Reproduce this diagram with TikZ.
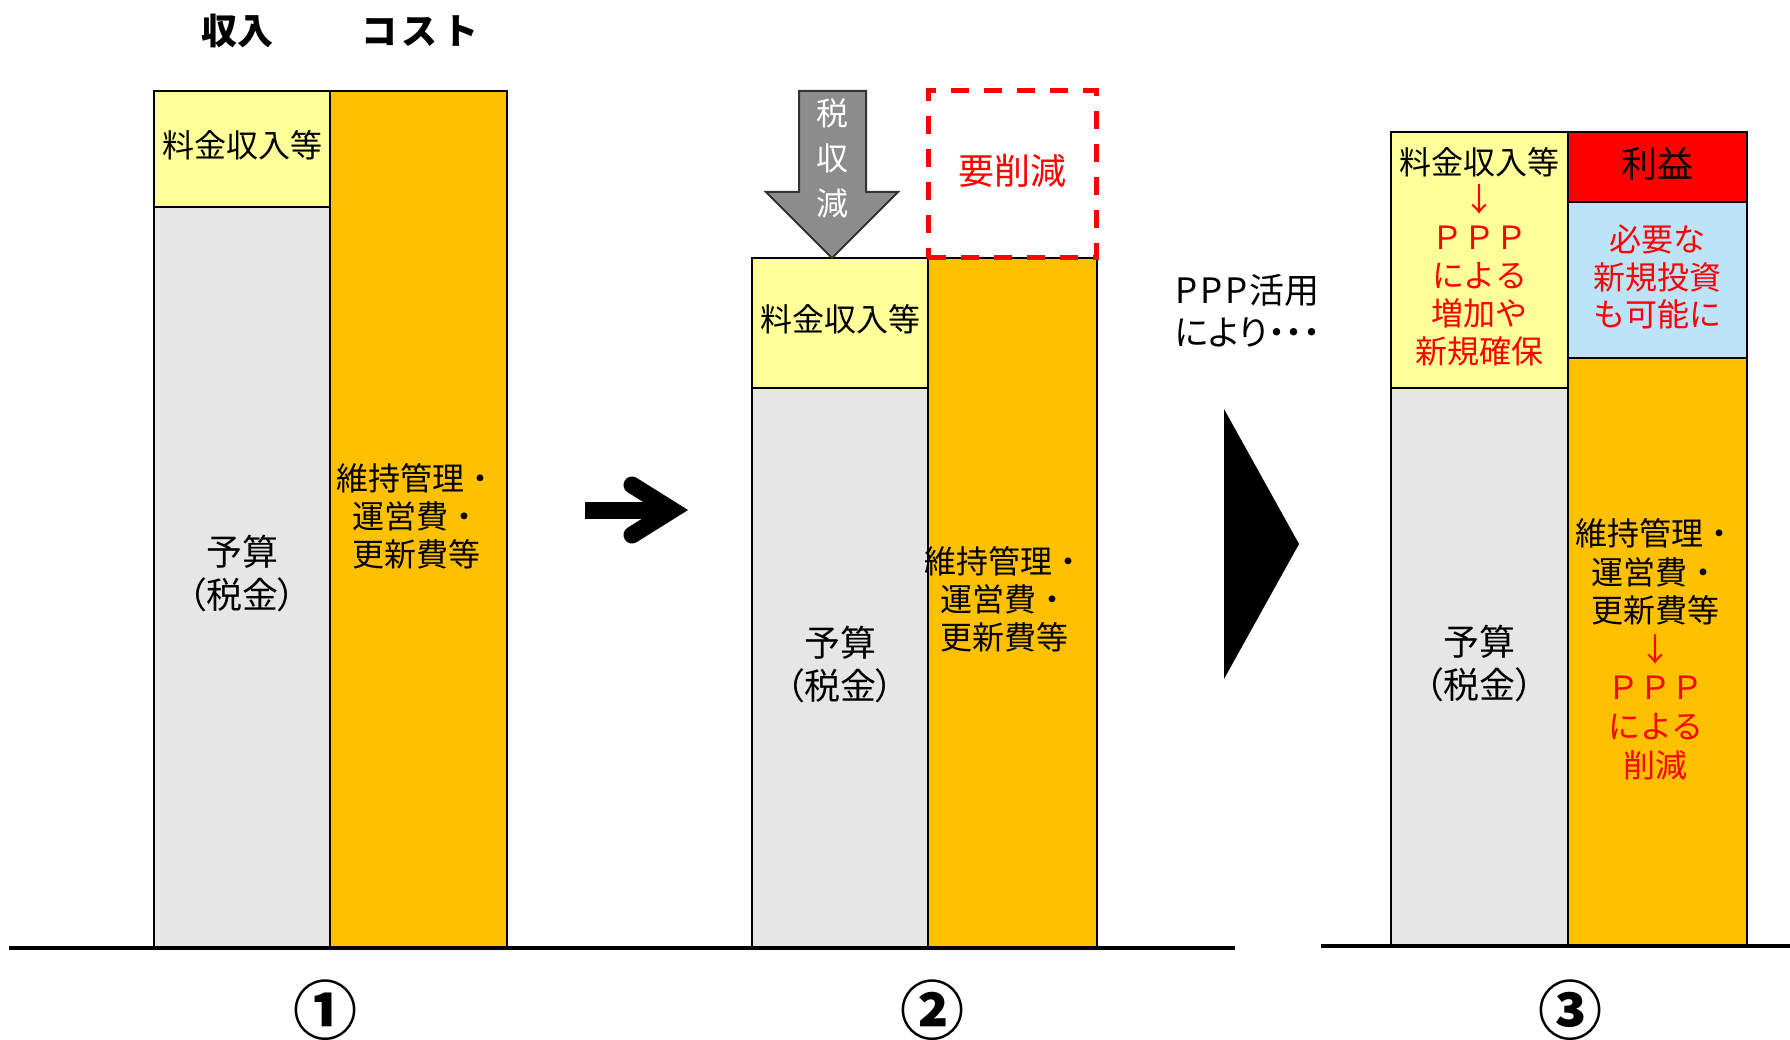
\documentclass[tikz,border=0pt]{standalone}
\usepackage{fontspec}
\setmainfont{Noto Sans CJK JP}
\newfontfamily\pj[RawFeature=+palt]{Noto Sans CJK JP}
\definecolor{cyel}{HTML}{FFFF99}
\definecolor{corg}{HTML}{FFC000}
\definecolor{cgry}{HTML}{E6E6E6}
\definecolor{cblu}{HTML}{BDE3F9}
\definecolor{cred}{HTML}{FF0000}
\definecolor{carr}{HTML}{8C8C8C}
\begin{document}
\begin{tikzpicture}[x=1pt,y=-1pt,
  box/.style={draw=black, line width=2.5pt, inner sep=0pt},
  txt/.style={inner sep=0pt, align=center, font={\fontsize{32}{38}\selectfont}},
  taxtxt/.style={inner sep=0pt, align=center, font={\pj\fontsize{36}{43}\selectfont}},
  head/.style={inner sep=0pt, font={\bfseries\fontsize{36}{40}\selectfont}},
  num/.style={inner sep=0pt, font={\bfseries\fontsize{64}{70}\selectfont}},
  base/.style={line width=4pt}]
\useasboundingbox[fill=white] (0,0) rectangle (1790,1040);

% headings
\node[head] (hinc) at (237,31) {収入};
\node[head] (hcost) at (420,31) {コ\kern5ptス\kern5ptト};

% panel 1
\node[box, fill=cyel, minimum width=176pt, minimum height=116pt] (p1inc) at (242,149) {};
\node[box, fill=cgry, minimum width=176pt, minimum height=741pt] (p1tax) at (242,577.5) {};
\node[box, fill=corg, minimum width=177pt, minimum height=857pt] (p1cost) at (418.5,519.5) {};
\node[txt] (t1inc) at ([yshift=3.5pt]p1inc.center) {料金収入等};
\node[taxtxt] (t1tax) at ([yshift=3.5pt]p1tax.center) {予算\\（税金）};
\node[txt] (t1cost) at ([yshift=3.5pt,xshift=-2pt]p1cost.center) {維持管理・\\運営費・\\更新費等};

% arrow 1 -> 2
\fill (585,501.5) rectangle (672,518.5);
\draw[line width=17pt, line cap=round, line join=miter] (632,485) -- (672,510) -- (632,535);

% panel 2
\node[box, fill=cyel, minimum width=176pt, minimum height=130pt] (p2inc) at (840,323) {};
\node[box, fill=cgry, minimum width=176pt, minimum height=560pt] (p2tax) at (840,668) {};
\node[box, fill=corg, minimum width=169pt, minimum height=690pt] (p2cost) at (1012.5,603) {};
\node[txt] (t2inc) at ([yshift=3.5pt]p2inc.center) {料金収入等};
\node[taxtxt] (t2tax) at ([yshift=3.5pt]p2tax.center) {予算\\（税金）};
\node[txt] (t2cost) at ([yshift=3.5pt,xshift=-8pt]p2cost.center) {維持管理・\\運営費・\\更新費等};
\node[draw=cred, line width=5pt, dash pattern=on 18pt off 15pt, minimum width=168pt, minimum height=167pt, inner sep=0pt] (cut) at (1012,174.5) {};
\node[inner sep=0pt, text=cred, font={\fontsize{36}{42}\selectfont}] (tcut) at ([yshift=4pt]cut.center) {要削減};
\filldraw[fill=carr, draw=black!80, line width=2pt] (799,91) -- (866,91) -- (866,192) -- (898,192) -- (832,258) -- (766,192) -- (799,192) -- cycle;
\node[inner sep=0pt, align=center, text=white, font={\fontsize{32}{45}\selectfont}] (taxdown) at (832,158) {税\\収\\減};

% middle text and triangle
\node[inner sep=0pt, anchor=west, align=left, font={\pj\fontsize{35}{42}\selectfont}] (ppp) at (1175,311) {P\kern3ptP\kern3ptP\kern2pt活用\\により・・・};
\fill (1224,409) -- (1299,544) -- (1224,679) -- cycle;

% panel 3
\node[box, fill=cyel, minimum width=177pt, minimum height=256pt] (p3inc) at (1479.5,260) {};
\node[box, fill=cgry, minimum width=177pt, minimum height=558pt] (p3tax) at (1479.5,667) {};
\node[box, fill=cred, minimum width=179pt, minimum height=70pt] (p3profit) at (1657.5,167) {};
\node[box, fill=cblu, minimum width=179pt, minimum height=156pt] (p3new) at (1657.5,280) {};
\node[box, fill=corg, minimum width=179pt, minimum height=588pt] (p3cost) at (1657.5,652) {};
\node[txt, font={\fontsize{32}{37.8}\selectfont}] (t3inc) at ([yshift=3.5pt]p3inc.center) {料金収入等\\\textcolor{cred}{↓}\\\textcolor{cred}{ＰＰＰ}\\\textcolor{cred}{による}\\\textcolor{cred}{増加や}\\\textcolor{cred}{新規確保}};
\node[taxtxt] (t3tax) at ([yshift=3.5pt]p3tax.center) {予算\\（税金）};
\node[txt, font={\fontsize{36}{42}\selectfont}] (t3profit) at ([yshift=3.5pt]p3profit.center) {利益};
\node[txt, text=cred, font={\fontsize{32}{37.5}\selectfont}] (t3new) at ([yshift=3pt]p3new.center) {必要な\\新規投資\\も可能に};
\node[txt, font={\fontsize{32}{38.6}\selectfont}] (t3cost) at ([yshift=3pt,xshift=-2pt]p3cost.center) {維持管理・\\運営費・\\更新費等\\\textcolor{cred}{↓}\\\textcolor{cred}{ＰＰＰ}\\\textcolor{cred}{による}\\\textcolor{cred}{削減}};

% baselines
\coordinate (b1l) at (9,948);
\coordinate (b1r) at (1235,948);
\coordinate (b2l) at (1321,946);
\coordinate (b2r) at (1790,946);
\draw[base] (b1l) -- (b1r);
\draw[base] (b2l) -- (b2r);

% numbers
\node[num] (n1) at (325,1010) {①};
\node[num] (n2) at (932,1010) {②};
\node[num] (n3) at (1570,1010) {③};
\end{tikzpicture}
\end{document}
